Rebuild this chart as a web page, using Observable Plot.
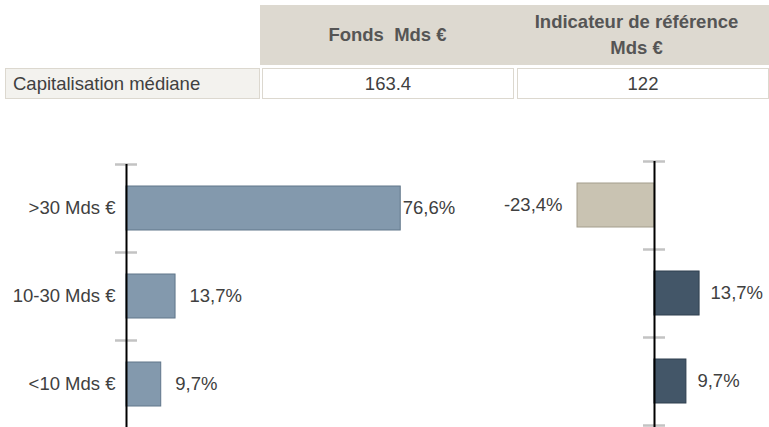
<!DOCTYPE html>
<html>
<head>
<meta charset="utf-8">
<script src="https://cdn.jsdelivr.net/npm/d3@7"></script>
<script src="https://cdn.jsdelivr.net/npm/@observablehq/plot@0.6"></script>
<style>
  html, body { margin: 0; padding: 0; width: 769px; height: 427px; overflow: hidden; background: #fff; }
  body { position: relative; font-family: "Liberation Sans", Arial, sans-serif; color: #404040; }
  .cell { position: absolute; box-sizing: border-box; display: flex; align-items: center; justify-content: center; text-align: center; font-size: 18.5px; }
  .hdr { background: #ddd9d0; font-weight: bold; color: #555; line-height: 26px; }
  .row { border: 1px solid #dcd8cf; background: #fff; }
  .lab { background: #f3f2ee; justify-content: flex-start; padding-left: 7px; }
  .chart { position: absolute; top: 110px; }
</style>
</head>
<body>
<div id="table"></div>
<div id="left" class="chart" style="left:0px"></div>
<div id="right" class="chart" style="left:480px"></div>
<script>
// ---- data ----
const tableColumns = ["Fonds&nbsp;&nbsp;Mds €", "Indicateur de référence<br>Mds €"];
const tableRowLabel = "Capitalisation médiane";
const tableValues = ["163.4", "122"];

const categories = [">30 Mds €", "10-30 Mds €", "<10 Mds €"];
const fundWeights = [76.6, 13.7, 9.7];          // left chart
const relativeWeights = [-23.4, 13.7, 9.7];     // right chart

// ---- table ----
const t = document.getElementById("table");
t.innerHTML = `
  <div class="cell hdr" style="left:260px;top:5px;width:509px;height:60px;"></div>
  <div class="cell hdr" style="left:260px;top:5px;width:255px;height:60px;">${tableColumns[0]}</div>
  <div class="cell hdr" style="left:516px;top:5px;width:241px;height:60px;">${tableColumns[1]}</div>
  <div class="cell row lab" style="left:5px;top:68px;width:255px;height:31px;">${tableRowLabel}</div>
  <div class="cell row" style="left:262px;top:68px;width:252px;height:31px;">${tableValues[0]}</div>
  <div class="cell row" style="left:517px;top:68px;width:252px;height:31px;">${tableValues[1]}</div>
`;

const fmt = v => d3.format(".1f")(v).replace("\u2212", "-").replace(".", ",") + "%";
const fundData = categories.map((c, i) => ({cat: c, value: fundWeights[i]}));
const relData = categories.map((c, i) => ({cat: c, value: relativeWeights[i]}));
const font = {fontSize: "18.5px", fontFamily: "'Liberation Sans', Arial, sans-serif", color: "#404040", background: "transparent"};

function ticks(range) {
  const step = (range[1] - range[0]) / 3;
  return [
    Plot.ruleY(categories, {y: d => d, x1: 0, x2: 0, insetLeft: -11, insetRight: -11, dy: -step / 2, stroke: "#c3c3c3", strokeWidth: 2.5}),
    Plot.ruleY(categories.slice(-1), {y: d => d, x1: 0, x2: 0, insetLeft: -11, insetRight: -11, dy: step / 2, stroke: "#c3c3c3", strokeWidth: 2.5})
  ];
}

// ---- left chart ----
const yL = [54, 318];
const left = Plot.plot({
  width: 480, height: 320,
  marginLeft: 126, marginRight: 0, marginTop: 54, marginBottom: 0,
  style: font,
  x: {domain: [0, 100], range: [126, 484], axis: null},
  y: {domain: categories, range: yL, paddingInner: 0.5, paddingOuter: 0.25, tickSize: 0, tickPadding: 11, label: null},
  marks: [
    ...ticks(yL),
    Plot.barX(fundData, {x: "value", y: "cat", fill: "#8399ad", stroke: "#60768a", strokeWidth: 1}),
    Plot.text(fundData.filter(d => d.value > 50), {x: "value", y: "cat", text: d => fmt(d.value), textAnchor: "start", dx: 2, fontSize: 18.5, fill: "#404040"}),
    Plot.text(fundData.filter(d => d.value <= 50), {x: "value", y: "cat", text: d => fmt(d.value), textAnchor: "start", dx: 14, fontSize: 18.5, fill: "#404040"}),
    Plot.ruleX([0], {stroke: "#000", strokeWidth: 2})
  ]
});
document.getElementById("left").appendChild(left);

// ---- right chart ----
const yR = [51, 315];
const right = Plot.plot({
  width: 289, height: 320,
  marginLeft: 174, marginRight: 0, marginTop: 51, marginBottom: 0,
  style: font,
  x: {domain: [-30, 30], range: [75.3, 272.7], axis: null},
  y: {domain: categories, range: yR, paddingInner: 0.5, paddingOuter: 0.25, axis: null},
  marks: [
    ...ticks(yR),
    Plot.barX(relData, {x: "value", y: "cat", fill: d => d.value < 0 ? "#c9c3b2" : "#435668", stroke: d => d.value < 0 ? "#a39d8c" : "#2f3f4f", strokeWidth: 1}),
    Plot.text(relData.filter(d => d.value < 0), {x: "value", y: "cat", text: d => fmt(d.value), textAnchor: "end", dx: -15, fontSize: 18.5, fill: "#404040"}),
    Plot.text(relData.filter(d => d.value >= 0), {x: "value", y: "cat", text: d => fmt(d.value), textAnchor: "start", dx: 11, fontSize: 18.5, fill: "#404040"}),
    Plot.ruleX([0], {stroke: "#000", strokeWidth: 2})
  ]
});
document.getElementById("right").appendChild(right);
</script>
</body>
</html>
